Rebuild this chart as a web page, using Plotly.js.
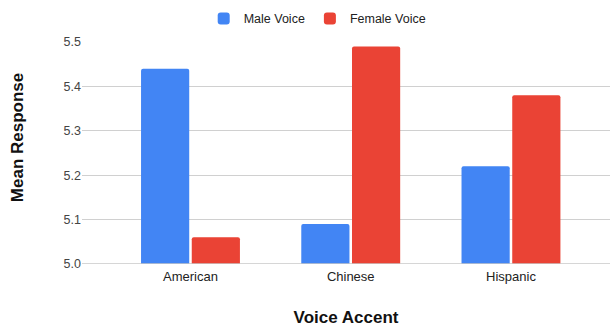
<!DOCTYPE html>
<html>
<head>
<meta charset="utf-8">
<script src="https://cdn.plot.ly/plotly-3.0.1.min.js"></script>
<style>html,body{margin:0;padding:0;background:#fff;}#chart{width:610px;height:327px;}</style>
</head>
<body>
<div id="chart"></div>
<script>
const categories = ["American", "Chinese", "Hispanic"];
const maleVoice = [5.44, 5.09, 5.22];
const femaleVoice = [5.06, 5.49, 5.38];
const seriesNames = ["Male Voice", "Female Voice"];
const yTicks = [5.0, 5.1, 5.2, 5.3, 5.4, 5.5];
const xTitle = "Voice Accent";
const yTitle = "Mean Response";

const FONT = "Arial, 'Liberation Sans', sans-serif";

const traces = [
  {type: "bar", name: seriesNames[0], x: categories, y: maleVoice,
   marker: {color: "#4285F4", line: {width: 0}}, hoverinfo: "none"},
  {type: "bar", name: seriesNames[1], x: categories, y: femaleVoice,
   marker: {color: "#EA4335", line: {width: 0}}, hoverinfo: "none"}
];

const layout = {
  width: 610, height: 327,
  margin: {l: 82, r: 0, t: 42, b: 63, pad: 0},
  paper_bgcolor: "#fff", plot_bgcolor: "#fff",
  font: {family: FONT, size: 12, color: "#444"},
  barmode: "group", bargap: 0.367, bargroupgap: 0.05,
  barcornerradius: 2,
  showlegend: true,
  legend: {orientation: "h", x: 0.52, xref: "container", xanchor: "center",
           y: 0.988, yref: "container", yanchor: "top",
           font: {family: FONT, size: 12.5, color: "#222"},
           traceorder: "normal"},
  xaxis: {type: "category", range: [-0.677, 2.618], showgrid: false,
          showline: false, zeroline: false, ticks: "",
          ticklabelstandoff: 3,
          tickfont: {family: FONT, size: 13, color: "#222"},
          title: {text: xTitle, font: {family: FONT, size: 17, color: "#111", weight: "bold"}, standoff: 28}},
  yaxis: {range: [5.0, 5.5], tickvals: yTicks, tickformat: ".1f",
          showgrid: true, gridcolor: "#d0d0d0", gridwidth: 1,
          showline: false, zeroline: false, ticks: "",
          ticklabelstandoff: 0,
          tickfont: {family: FONT, size: 12.5, color: "#444"}},
  annotations: [{text: yTitle, textangle: -90, xref: "paper", yref: "paper",
                 x: -0.123, y: 0.567, xanchor: "center", yanchor: "middle",
                 showarrow: false,
                 font: {family: FONT, size: 17, color: "#111", weight: "bold"}}],
  shapes: [{type: "line", xref: "paper", yref: "y", x0: 0, x1: 1, y0: 5.0, y1: 5.0,
            line: {color: "#c8c8c8", width: 1.5}, layer: "above"}]
};

Plotly.newPlot("chart", traces, layout, {staticPlot: true, displayModeBar: false});
</script>
</body>
</html>
